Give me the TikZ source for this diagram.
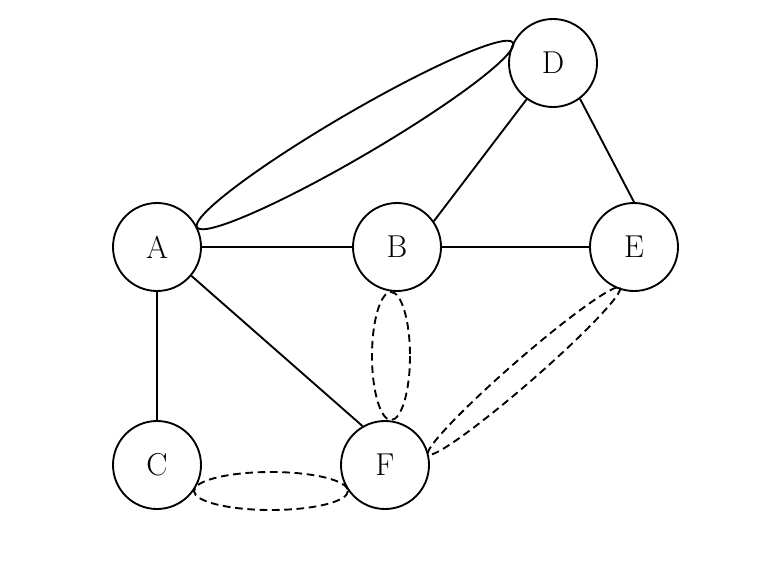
\documentclass[tikz,border=0pt]{standalone}
\begin{document}
\begin{tikzpicture}[x=0.03cm,y=-0.03cm,
vertex/.style={draw,circle,line width=1.6pt,minimum size=2.64cm,inner sep=0pt,font=\fontsize{27}{30}\selectfont},
edge/.style={line width=1.6pt},
ring/.style={line width=1.6pt},
dashring/.style={line width=1.6pt,dash pattern=on 6.5pt off 4pt}]
\useasboundingbox (0,0) rectangle (783,561);
\node[vertex] (A) at (157,247) {A};
\node[vertex] (B) at (397,247) {B};
\node[vertex] (C) at (157,465) {C};
\node[vertex] (D) at (553,63) {D};
\node[vertex] (E) at (634,247) {E};
\node[vertex] (F) at (385,465) {F};
\draw[edge] (A)--(B);
\draw[edge] (A)--(C);
\draw[edge] (A.-40)--(F.120);
\draw[edge] (B.35)--(D.234);
\draw[edge] (B)--(E);
\draw[edge] (D.-53)--(E.north);
\coordinate (ad) at (355,135);
\coordinate (bf) at (391,356);
\coordinate (cf) at (271,491);
\coordinate (fe) at (524,371);
\draw[ring,rotate around={30.3:(ad)}] (ad) ellipse [x radius=183,y radius=22];
\draw[dashring] (bf) ellipse [x radius=19,y radius=64];
\draw[dashring] (cf) ellipse [x radius=77,y radius=19];
\draw[dashring,rotate around={41:(fe)}] (fe) ellipse [x radius=127,y radius=12];
\end{tikzpicture}
\end{document}
